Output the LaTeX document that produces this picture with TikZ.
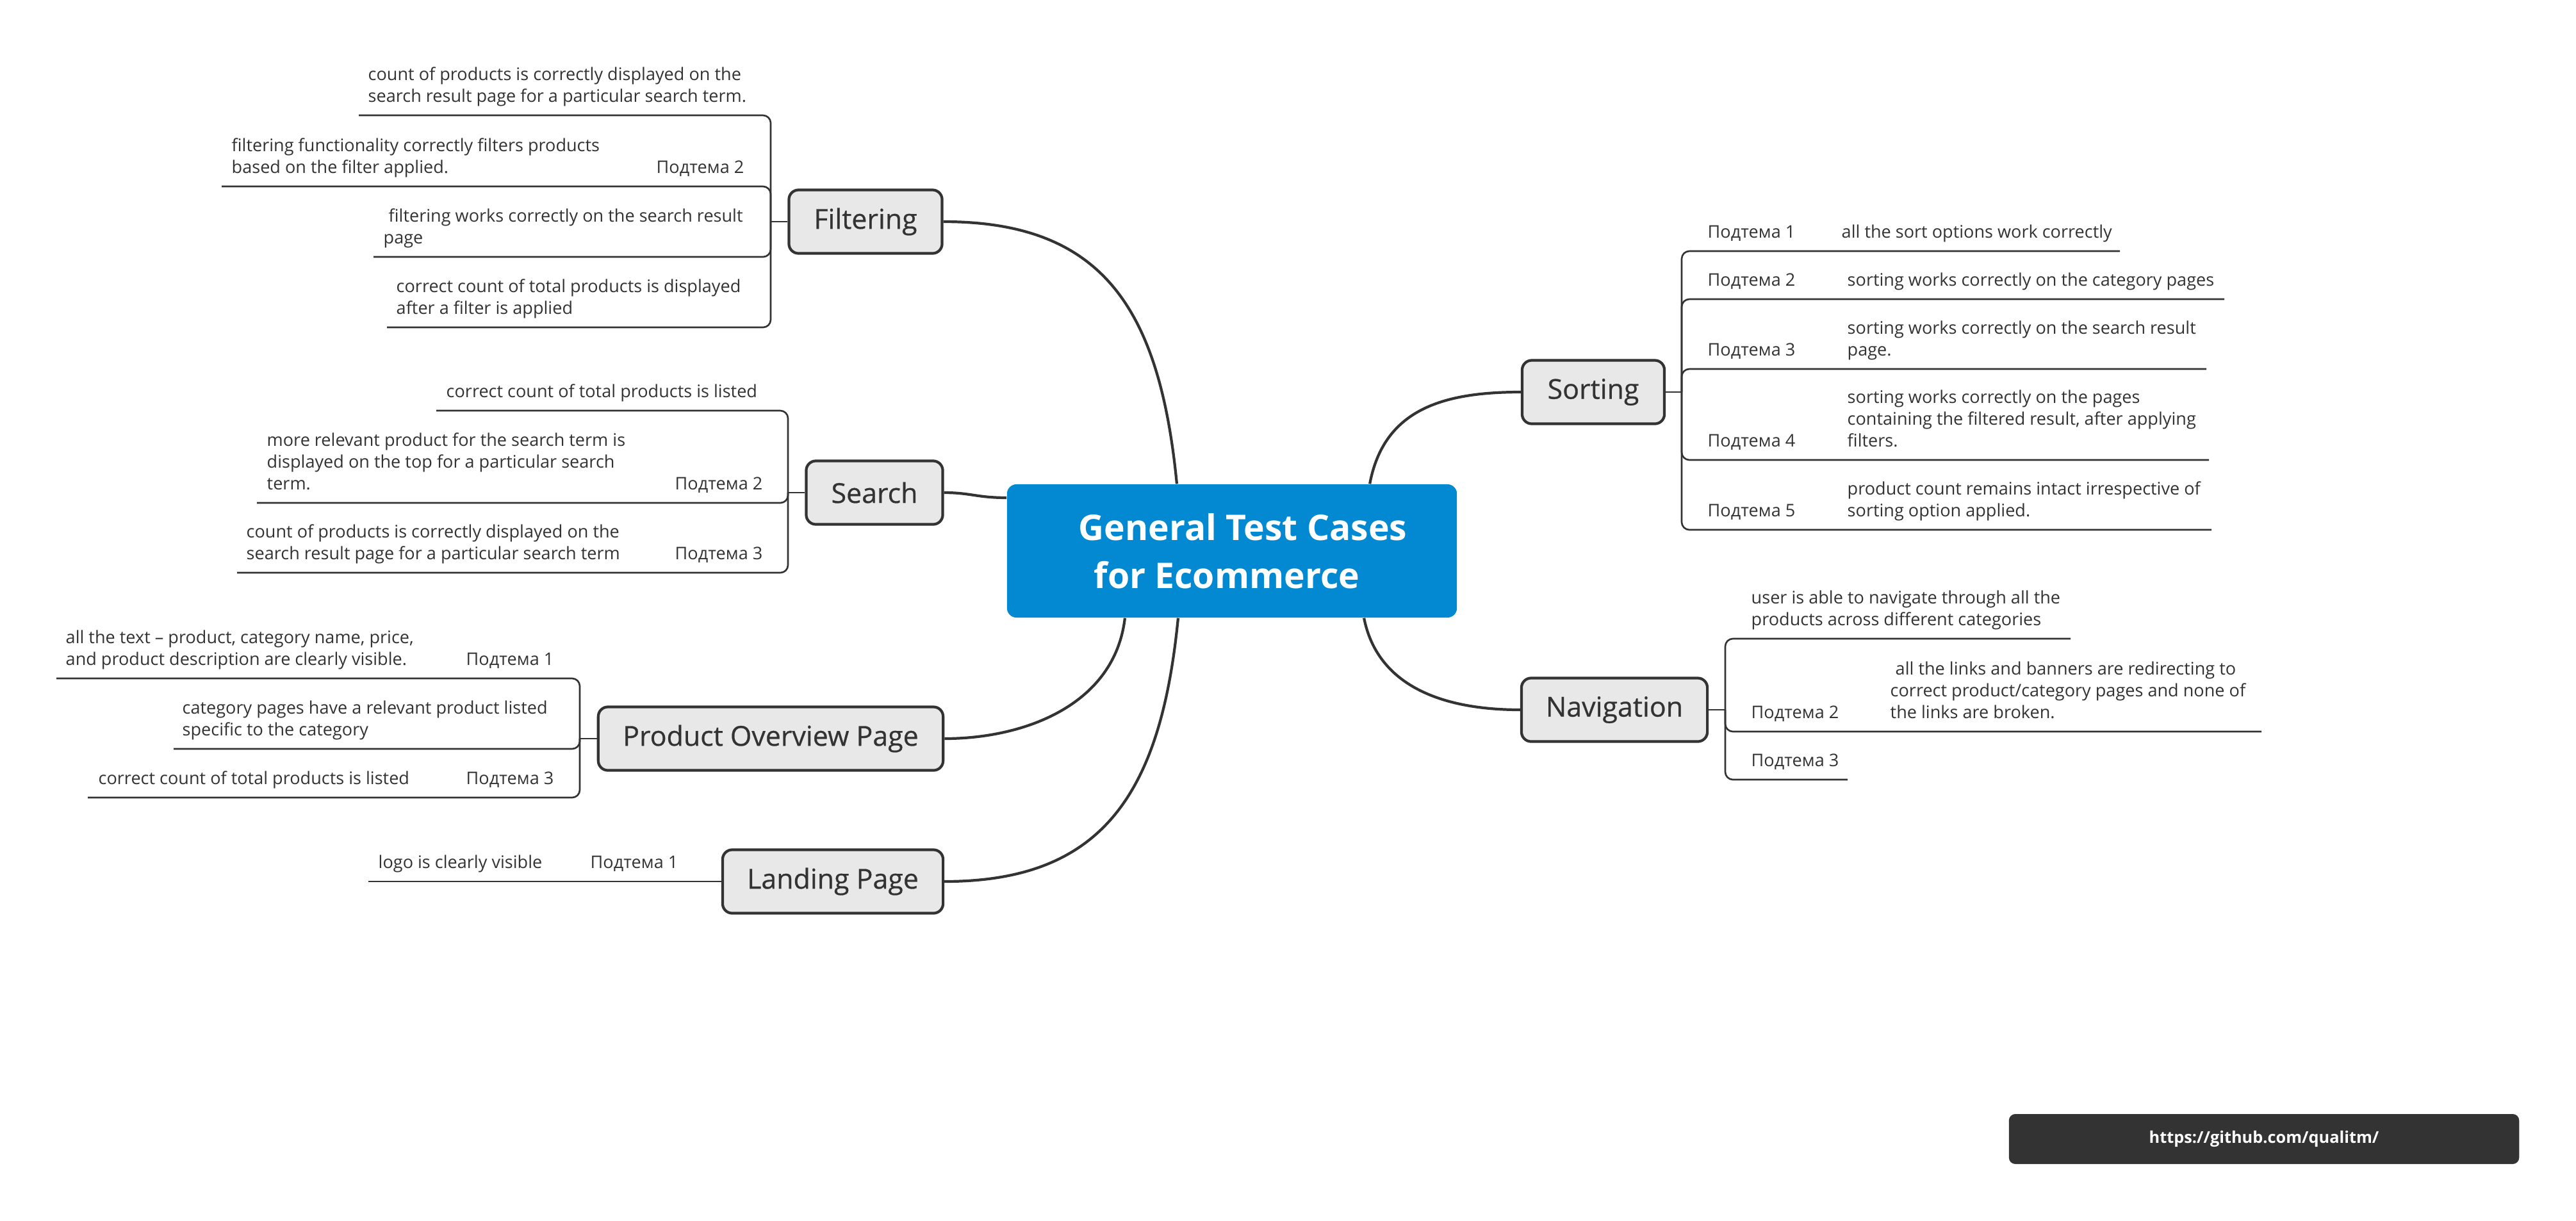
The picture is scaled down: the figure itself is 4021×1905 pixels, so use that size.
\documentclass[tikz,border=0pt]{standalone}
\usepackage{fontspec}
\setmainfont{Open Sans}
\newfontfamily\medfont{Open Sans}[FakeBold=0.6]
\definecolor{ink}{HTML}{333333}
\definecolor{rootblue}{HTML}{0388D2}
\definecolor{boxgray}{HTML}{E8E8E8}
\begin{document}
\begin{tikzpicture}[x=0.01cm, y=-0.01cm,
  leaf/.style={anchor=south west, inner sep=0pt, align=left, text=ink, font=\fontsize{7.7pt}{9.67pt}\selectfont},
  leafr/.style={leaf, anchor=south east, align=right},
  branch/.style={draw=ink, fill=boxgray, line width=1.2pt, rounded corners=0.15cm, text=ink, font=\medfont\fontsize{12.2pt}{14pt}\selectfont, minimum height=0.99cm, inner sep=0pt},
  mainline/.style={draw=ink, line width=1.2pt},
  subline/.style={draw=ink, line width=0.75pt, rounded corners=0.12cm},
]
\useasboundingbox (0,0) rectangle (4021,1905);
\fill[white] (0,0) rectangle (4021,1905);

% central topic
\node[fill=rootblue, rounded corners=0.15cm, minimum width=7.02cm, minimum height=2.08cm, inner sep=0pt, text=white, align=center, font=\bfseries\fontsize{15.7pt}{21.3pt}\selectfont] (root) at (1923,860) {\hspace*{0.34cm}General Test Cases\\for Ecommerce\hspace*{0.16cm}};

% main branches
\node[branch, minimum width=2.39cm] (filtering) at (1351,346) {Filtering};
\node[branch, minimum width=2.13cm] (search) at (1365,769) {Search};
\node[branch, minimum width=5.38cm] (pop) at (1203,1153) {Product Overview Page};
\node[branch, minimum width=3.44cm] (landing) at (1300,1376) {Landing Page};
\node[branch, minimum width=2.22cm] (sorting) at (2487,612) {Sorting};
\node[branch, minimum width=2.90cm] (navigation) at (2520,1108) {Navigation};

% main connectors
\draw[mainline] ([xshift=-0.86cm]root.north) .. controls (1810,480) and (1720,346) .. (filtering.east);
\draw[mainline] ([yshift=0.83cm]root.west) .. controls (1525,777) and (1515,769) .. (search.east);
\draw[mainline] ([xshift=-1.67cm]root.south) .. controls (1740,1100) and (1600,1153) .. (pop.east);
\draw[mainline] ([xshift=-0.84cm]root.south) .. controls (1812,1240) and (1720,1376) .. (landing.east);
\draw[mainline] ([xshift=2.15cm]root.north) .. controls (2160,640) and (2250,612) .. (sorting.west);
\draw[mainline] ([xshift=2.06cm]root.south) .. controls (2150,1070) and (2250,1108) .. (navigation.west);

% ---------- Filtering ----------
\coordinate (fj) at (1203,346);
\coordinate (f1e) at (560,180);
\coordinate (f2e) at (346,291);
\coordinate (f3e) at (583,401);
\coordinate (f4e) at (604,511);
\draw[subline] (filtering.west) -- (fj);
\draw[subline] (fj) |- (f1e);
\draw[subline] (fj) |- (f2e);
\draw[subline] (fj) |- (f3e);
\draw[subline] (fj) |- (f4e);
\node[leaf] (f1) at (574,170) {count of products is correctly displayed on the\\search result page for a particular search term.\strut};
\node[leaf] (f2) at (361,281) {filtering functionality correctly filters products\\based on the filter applied.\strut};
\node[leafr] (f2l) at (1162,281) {Подтема 2\strut};
\node[leaf] (f3) at (598,391) {\hspace*{0.08cm}filtering works correctly on the search result\\page\strut};
\node[leaf] (f4) at (618,501) {correct count of total products is displayed\\after a filter is applied\strut};

% ---------- Search ----------
\coordinate (srj) at (1230,769);
\coordinate (s1e) at (681,641);
\coordinate (s2e) at (401,785);
\coordinate (s3e) at (370,894);
\draw[subline] (search.west) -- (srj);
\draw[subline] (srj) |- (s1e);
\draw[subline] (srj) |- (s2e);
\draw[subline] (srj) |- (s3e);
\node[leaf] (s1) at (696,631) {correct count of total products is listed\strut};
\node[leaf] (s2) at (416,775) {more relevant product for the search term is\\displayed on the top for a particular search\\term.\strut};
\node[leafr] (s2l) at (1191,775) {Подтема 2\strut};
\node[leaf] (s3) at (384,884) {count of products is correctly displayed on the\\search result page for a particular search term\strut};
\node[leafr] (s3l) at (1191,884) {Подтема 3\strut};

% ---------- Product Overview Page ----------
\coordinate (pj) at (905,1153);
\coordinate (p1e) at (88,1059);
\coordinate (p2e) at (271,1169);
\coordinate (p3e) at (137,1245);
\draw[subline] (pop.west) -- (pj);
\draw[subline] (pj) |- (p1e);
\draw[subline] (pj) |- (p2e);
\draw[subline] (pj) |- (p3e);
\node[leaf] (p1) at (102,1049) {all the text – product, category name, price,\\and product description are clearly visible.\strut};
\node[leafr] (p1l) at (865,1049) {Подтема 1\strut};
\node[leaf] (p2) at (284,1159) {category pages have a relevant product listed\\specific to the category\strut};
\node[leaf] (p3) at (153,1235) {correct count of total products is listed\strut};
\node[leafr] (p3l) at (865,1235) {Подтема 3\strut};

% ---------- Landing Page ----------
\coordinate (le) at (575,1376);
\draw[subline] (landing.west) -- (le);
\node[leaf] (l1) at (590,1366) {logo is clearly visible\strut};
\node[leafr] (l1l) at (1059,1366) {Подтема 1\strut};

% ---------- Sorting ----------
\coordinate (sorj) at (2625,612);
\coordinate (o1e) at (3309,392);
\coordinate (o2e) at (3472,467);
\coordinate (o3e) at (3444,576);
\coordinate (o4e) at (3448,718);
\coordinate (o5e) at (3452,827);
\draw[subline] (sorting.east) -- (sorj);
\draw[subline] (sorj) |- (o1e);
\draw[subline] (sorj) |- (o2e);
\draw[subline] (sorj) |- (o3e);
\draw[subline] (sorj) |- (o4e);
\draw[subline] (sorj) |- (o5e);
\node[leaf] (o1l) at (2665,382) {Подтема 1\strut};
\node[leaf] (o1) at (2874,382) {all the sort options work correctly\strut};
\node[leaf] (o2l) at (2665,457) {Подтема 2\strut};
\node[leaf] (o2) at (2883,457) {sorting works correctly on the category pages\strut};
\node[leaf] (o3l) at (2665,566) {Подтема 3\strut};
\node[leaf] (o3) at (2883,566) {sorting works correctly on the search result\\page.\strut};
\node[leaf] (o4l) at (2665,708) {Подтема 4\strut};
\node[leaf] (o4) at (2883,708) {sorting works correctly on the pages\\containing the filtered result, after applying\\filters.\strut};
\node[leaf] (o5l) at (2665,817) {Подтема 5\strut};
\node[leaf] (o5) at (2883,817) {product count remains intact irrespective of\\sorting option applied.\strut};

% ---------- Navigation ----------
\coordinate (nj) at (2693,1108);
\coordinate (n1e) at (3232,997);
\coordinate (n2e) at (3530,1142);
\coordinate (n3e) at (2884,1217);
\draw[subline] (navigation.east) -- (nj);
\draw[subline] (nj) |- (n1e);
\draw[subline] (nj) |- (n2e);
\draw[subline] (nj) |- (n3e);
\node[leaf] (n1) at (2733,987) {user is able to navigate through all the\\products across different categories\strut};
\node[leaf] (n2l) at (2733,1132) {Подтема 2\strut};
\node[leaf] (n2) at (2950,1132) {\hspace*{0.08cm}all the links and banners are redirecting to\\correct product/category pages and none of\\the links are broken.\strut};
\node[leaf] (n3l) at (2733,1207) {Подтема 3\strut};

% watermark
\node[fill=ink, rounded corners=0.1cm, minimum width=7.96cm, minimum height=0.78cm, inner sep=0pt, text=white, font=\bfseries\fontsize{7.2pt}{9pt}\selectfont] (gh) at (3534,1778) {https://github.com/qualitm/};
\end{tikzpicture}
\end{document}
